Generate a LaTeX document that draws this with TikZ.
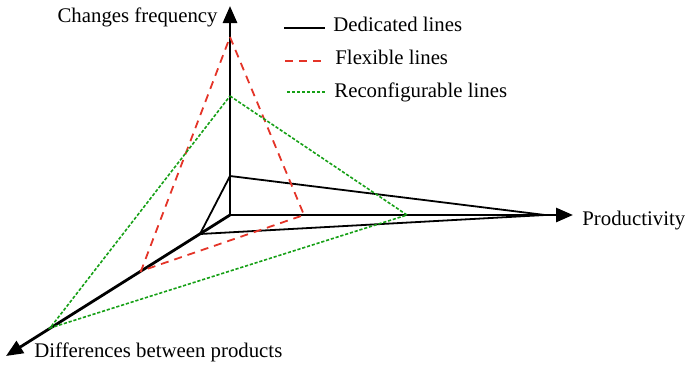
\documentclass[tikz,border=0pt]{standalone}
\usepackage{fontspec}
\setmainfont{Liberation Serif}
\usetikzlibrary{arrows.meta}

\begin{document}
\begin{tikzpicture}[x=0.5pt, y=-0.5pt, >={Triangle[length=8.5pt, width=7pt]},
		font=\fontsize{10.4}{12}\selectfont, inner sep=0pt,
		axis/.style={line width=1.4pt, ->},
		dedicated/.style={line width=0.9pt, black},
		flexible/.style={line width=0.9pt, flexred, dash pattern=on 4pt off 3pt},
		reconf/.style={line width=0.8pt, reconfgreen, dash pattern=on 1.6pt off 0.9pt}]
		\definecolor{flexred}{RGB}{228,52,40}
		\definecolor{reconfgreen}{RGB}{22,160,22}
		\useasboundingbox (0,0) rectangle (685,365);
		% axes
		\coordinate (O) at (230,215);
		\coordinate (Vtip) at (230,6);
		\coordinate (Htip) at (573,215);
		\coordinate (Dtip) at (6,356);
		\draw[axis] (O) -- (Vtip);
		\draw[axis] (O) -- (Htip);
		\draw[axis] (O) -- (Dtip);
		\node[anchor=base east] (freq) at (218,22) {Changes frequency};
		\node[anchor=base west] (prod) at (582,225) {Productivity};
		\node[anchor=base west] (diff) at (34,357) {Differences between products};
		% dedicated lines
		\coordinate (DV) at (230,176);
		\coordinate (DH) at (545,215);
		\coordinate (DD) at (200,234);
		\draw[dedicated] (DV) -- (DH) -- (DD) -- cycle;
		% flexible lines
		\coordinate (FV) at (230,37);
		\coordinate (FH) at (304,215);
		\coordinate (FD) at (141,271);
		\draw[flexible] (FV) -- (FH) -- (FD) -- cycle;
		% reconfigurable lines
		\coordinate (RV) at (230,96);
		\coordinate (RH) at (407,215);
		\coordinate (RD) at (50,328);
		\draw[reconf] (RV) -- (RH) -- (RD) -- cycle;
		% legend
		\coordinate (L1a) at (284,28);
		\coordinate (L1b) at (325,28);
		\coordinate (L2a) at (285,61);
		\coordinate (L2b) at (323,61);
		\coordinate (L3a) at (287,92);
		\coordinate (L3b) at (326,92);
		\draw[dedicated] (L1a) -- (L1b);
		\draw[flexible] (L2a) -- (L2b);
		\draw[reconf] (L3a) -- (L3b);
		\node[anchor=base west] (leg1) at (333,31) {Dedicated lines};
		\node[anchor=base west] (leg2) at (335,64) {Flexible lines};
		\node[anchor=base west] (leg3) at (334,97) {Reconfigurable lines};
	\end{tikzpicture}
\end{document}
